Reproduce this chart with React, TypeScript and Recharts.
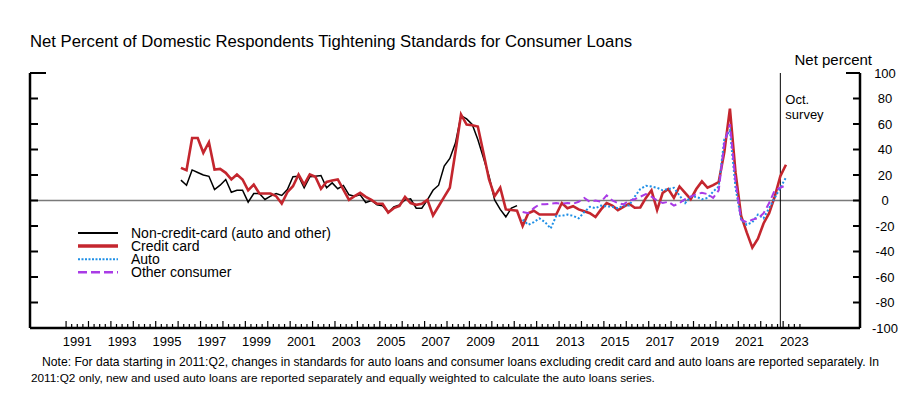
import React from 'react';
import { ComposedChart, Line, XAxis, YAxis, ReferenceLine } from 'recharts';

// quarterly survey readings, net percent tightening
const START = 1996.125;
const AUTO_START = 2011.375;
const STEP = 0.25;

const nonCreditCard = [
  16, 12, 24, 22, 20, 19, 8.6, 12, 16.5, 6.5,
  8, 8, -1.3, 5.5, 5.5, 0.8, 3.4, 5.5, 4, 8.6,
  18.6, 19, 10, 18.6, 19, 19.6, 10, 13.8, 9.2, 11.8,
  4.5, 3.4, 4.5, -1.6, 0, -3.4, -4.2, -9.4, -5, -3.4,
  0.5, 1.3, -6, -6, 0.5, 8, 12, 27, 33, 45,
  66.5, 64, 59.6, 47.8, 33.5, 19, 0.5, -7, -12.8, -6, -4,
];

const creditCard = [
  25.6, 23.8, 49, 49, 37.4, 45.7, 24.3, 24.8, 21.7, 16.5,
  20.4, 16.5, 8, 12.5, 5.5, 5.5, 5.5, 3.4, -2.4, 6.5,
  11.2, 20.4, 12.5, 20.4, 18.6, 9.2, 14.6, 15.7, 16.5, 8.6,
  0.5, 3.4, 6, 2.9, 0.5, -2.6, -2.6, -9.4, -6, -4.2,
  2.9, -2, -3.4, -2.6, 0.5, -11.8, -4.5, 2.9, 10, 38,
  67.5, 59.6, 59, 58, 37.4, 16.5, 3.4, 10, -7, -7.5,
  -8, -20, -10, -8, -11, -11, -11, -11, -2, -6,
  -4.5, -7, -8.5, -10, -13, -7, -2, -4, -7.5, -5,
  -2.5, -5.7, -5.5, 2, 8, -7.5, 6, 9, 2, 11,
  6, 1, 9, 15, 10, 12, 14.5, 38, 72, 22,
  -12, -25, -37, -30, -18, -10, 3, 19, 28,
];

const auto = [
  -15, -19, -17, -14, -17, -22, -12, -12, -11, -12,
  -14, -9, -5, -6, -4, -4.5, -5, -6, -4, -4,
  3, 9, 11.5, 11, 10, 8, 9, 10, 4, -2,
  3, 3, 1, 2, 7, 11, 48, 55, 10, -15,
  -19, -17, -11, -14, -6, 2, 10, 18,
];

const otherConsumer = [
  -9, -10, -6, -3, -3, -2.5, -2, -2.5, -2, -2.5,
  -1, 2, -1, 0, -1, 4, 0, -2, -3, 0,
  1, 3, 5, 3, 0, -2, -1, -4, -2, 1,
  3, 5, 6, 5, 2, 8, 45, 60, 15, -15,
  -17, -15, -14, -10, -2, 8, 10, 12,
];

const yearLabels = [1991, 1993, 1995, 1997, 1999, 2001, 2003, 2005, 2007, 2009, 2011, 2013, 2015, 2017, 2019, 2021, 2023];
const yTicks = [-100, -80, -60, -40, -20, 0, 20, 40, 60, 80, 100];
const SURVEY = 2022.875;

const FONT = '"Liberation Sans", Arial, sans-serif';

const toPoints = (vals: number[], start: number) => vals.map((v, i) => ({ t: start + i * STEP, v }));

// the black series sits on the left axis (same scale) so that axis draws its ticks
const series = [
  { name: 'Non-credit-card (auto and other)', data: toPoints(nonCreditCard, START), axis: 'left', color: '#000000', width: 1.5, dash: undefined, legendDash: undefined, legendWidth: 2 },
  { name: 'Credit card', data: toPoints(creditCard, START), axis: 'right', color: '#C4262E', width: 2.6, dash: undefined, legendDash: undefined, legendWidth: 3.5 },
  { name: 'Auto', data: toPoints(auto, AUTO_START), axis: 'right', color: '#1E8FE6', width: 2, dash: '2 2', legendDash: '2 1.5', legendWidth: 2 },
  { name: 'Other consumer', data: toPoints(otherConsumer, AUTO_START), axis: 'right', color: '#A93BE6', width: 2, dash: '7 4', legendDash: '9 4', legendWidth: 2.5 },
];

// quarterly tick marks 1991 - 2023
const xTicks: number[] = [];
for (let q = 0; q <= 131; q++) xTicks.push(1991 + q * 0.25);

const XTick = (props: any) => {
  const { x, y, payload } = props;
  const t = payload.value;
  const yr = Math.floor(t + 1e-6);
  const frac = t - yr;
  const major = Math.abs(frac) < 1e-6;
  const showLabel = Math.abs(frac - 0.5) < 1e-6 && yearLabels.includes(yr);
  return (
    <g>
      <line x1={x} x2={x} y1={y} y2={y - (major ? 7 : 4)} stroke="#000" strokeWidth={1.2} />
      {showLabel && (
        <text x={x} y={y + 18} textAnchor="middle" fontSize={13} fontFamily={FONT} fill="#000">
          {yr}
        </text>
      )}
    </g>
  );
};

const LeftTick = (props: any) => {
  const { x, y, payload } = props;
  return <line x1={x} x2={x + (payload.value === 100 ? 16 : 8)} y1={y} y2={y} stroke="#000" strokeWidth={2} />;
};

const RightTick = (props: any) => {
  const { x, y, payload } = props;
  return (
    <g>
      <line x1={x} x2={x - (payload.value === 100 ? 14 : 7)} y1={y} y2={y} stroke="#000" strokeWidth={2} />
      <text x={x + 25} y={y + 4.5} textAnchor="middle" fontSize={13} fontFamily={FONT} fill="#000">
        {payload.value}
      </text>
    </g>
  );
};

const SurveyLabel = (props: any) => {
  const { viewBox } = props;
  return (
    <text x={viewBox.x + 5} y={viewBox.y + 31} fontSize={13} fontFamily={FONT} fill="#000">
      <tspan x={viewBox.x + 5}>Oct.</tspan>
      <tspan x={viewBox.x + 5} dy={15}>survey</tspan>
    </text>
  );
};

const LegendBox = () => (
  <svg width={320} height={60}>
    {series.map((s, i) => (
      <g key={s.name}>
        <line x1={0} x2={40} y1={7 + i * 13.1} y2={7 + i * 13.1} stroke={s.color} strokeWidth={s.legendWidth} strokeDasharray={s.legendDash} />
        <text x={53} y={12 + i * 13.1} fontSize={14} fontFamily={FONT} fill="#000">
          {s.name}
        </text>
      </g>
    ))}
  </svg>
);

export default function App() {
  return (
    <div style={{ position: 'absolute', left: 0, top: 0, width: 924, height: 394, background: '#fff', fontFamily: FONT }}>
      <div style={{ position: 'absolute', left: 30, top: 32, fontSize: 16.7, lineHeight: '20px', whiteSpace: 'nowrap' }}>
        Net Percent of Domestic Respondents Tightening Standards for Consumer Loans
      </div>
      <div style={{ position: 'absolute', right: 924 - 872, top: 51, fontSize: 15, lineHeight: '18px', whiteSpace: 'nowrap' }}>
        Net percent
      </div>
      <ComposedChart width={924} height={394} margin={{ top: 73, right: 24, bottom: 36, left: 20 }}>
        <XAxis
          dataKey="t"
          type="number"
          domain={[1989.39, 2026.43]}
          ticks={xTicks}
          interval={0}
          height={30}
          tickSize={0}
          tickMargin={0}
          tickLine={false}
          tick={<XTick />}
          axisLine={{ stroke: '#000', strokeWidth: 2.5 }}
          allowDataOverflow
        />
        <YAxis
          yAxisId="left"
          orientation="left"
          domain={[-100, 100]}
          ticks={yTicks}
          interval={0}
          width={10}
          tickSize={0}
          tickMargin={0}
          tickLine={false}
          tick={<LeftTick />}
          axisLine={{ stroke: '#000', strokeWidth: 2.5 }}
        />
        <YAxis
          yAxisId="right"
          orientation="right"
          domain={[-100, 100]}
          ticks={yTicks}
          interval={0}
          width={40}
          tickSize={0}
          tickMargin={0}
          tickLine={false}
          tick={<RightTick />}
          axisLine={{ stroke: '#000', strokeWidth: 2.5 }}
        />
        <ReferenceLine yAxisId="right" y={0} stroke="#7a7a7a" strokeWidth={1.5} />
        <ReferenceLine yAxisId="right" x={SURVEY} stroke="#000" strokeWidth={1} label={<SurveyLabel />} />
        {series.map((s) => (
          <Line
            key={s.name}
            yAxisId={s.axis}
            data={s.data}
            dataKey="v"
            name={s.name}
            type="linear"
            stroke={s.color}
            strokeWidth={s.width}
            strokeDasharray={s.dash}
            dot={false}
            activeDot={false}
            isAnimationActive={false}
          />
        ))}
      </ComposedChart>
      <div style={{ position: 'absolute', left: 78, top: 226 }}>
        <LegendBox />
      </div>
      <div style={{ position: 'absolute', left: 42, top: 354, fontSize: 12.15, lineHeight: '16px', whiteSpace: 'nowrap' }}>
        Note: For data starting in 2011:Q2, changes in standards for auto loans and consumer loans excluding credit card and auto loans are reported separately. In
      </div>
      <div style={{ position: 'absolute', left: 31, top: 370, fontSize: 11.8, lineHeight: '16px', whiteSpace: 'nowrap' }}>
        2011:Q2 only, new and used auto loans are reported separately and equally weighted to calculate the auto loans series.
      </div>
    </div>
  );
}
